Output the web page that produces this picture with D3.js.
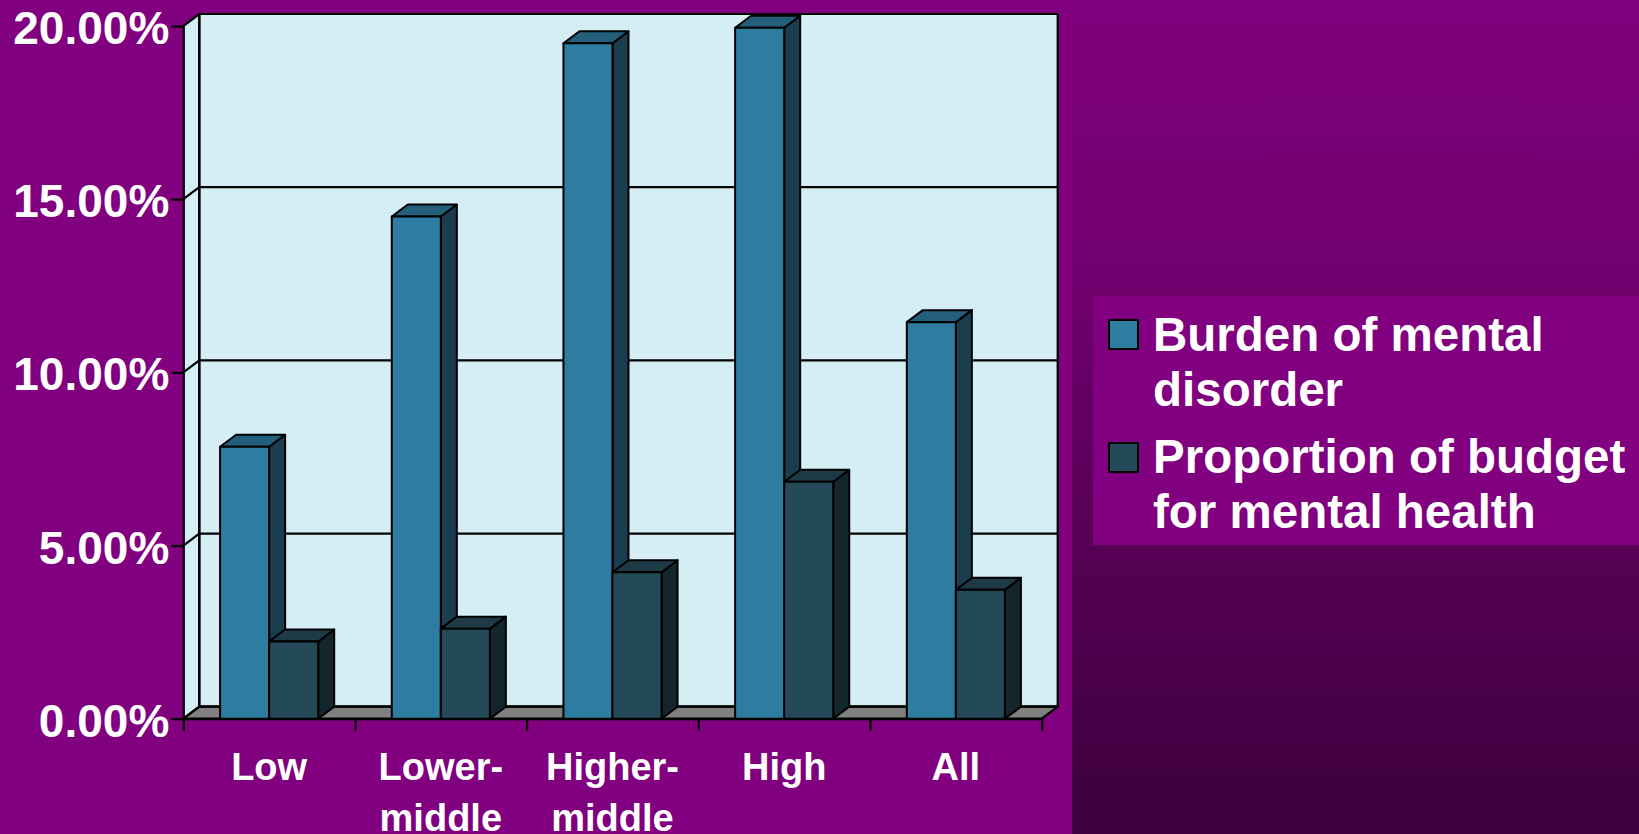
<!DOCTYPE html>
<html>
<head>
<meta charset="utf-8">
<script src="https://cdn.jsdelivr.net/npm/d3@7"></script>
<style>
  html, body { margin: 0; padding: 0; background: #800080; overflow: hidden; }
  svg { display: block; }
  text { font-family: "Liberation Sans", Arial, sans-serif; font-weight: bold; fill: #ffffff; }
</style>
</head>
<body>
<svg id="chart" width="1639" height="834"></svg>
<script>
// Income groups along the x axis, and how their labels wrap
const categories = ["Low", "Lower-middle", "Higher-middle", "High", "All"];
const categoryLines = [["Low"], ["Lower-", "middle"], ["Higher-", "middle"], ["High"], ["All"]];

// Series (percent)
const seriesKeys = ["burden", "budget"];
const legendLines = [["Burden of mental", "disorder"], ["Proportion of budget", "for mental health"]];
const burden = [7.85, 14.5, 19.5, 19.95, 11.45];
const budget = [2.23, 2.6, 4.23, 6.84, 3.72];

// Value axis ticks
const yTicks = [0, 5, 10, 15, 20];

const W = 1639, H = 834;
const svg = d3.select("#chart");

// Face colours for the 3-D columns: front, top, side
const faces = {
  burden: { front: "#2e7da1", top: "#235f7a", side: "#1a3d50" },
  budget: { front: "#244a5a", top: "#1d3a46", side: "#13262c" }
};

// ---- background: solid panel on the left, darkening band on the right
const defs = svg.append("defs");
const grad = defs.append("linearGradient").attr("id", "rightBand")
  .attr("x1", 0).attr("y1", 0).attr("x2", 0).attr("y2", 1);
[[0, "#7f007d"], [0.3, "#730070"], [0.84, "#470047"], [1, "#3c003c"]].forEach(([o, c]) =>
  grad.append("stop").attr("offset", o).attr("stop-color", c));

const splitX = 1072;
svg.append("rect").attr("width", splitX).attr("height", H).attr("fill", "#800080");
svg.append("rect").attr("x", splitX).attr("width", W - splitX).attr("height", H).attr("fill", "url(#rightBand)");

// ---- scales
const plot = { left: 183.3, right: 1041.7, top: 26, bottom: 718.7 };
const dx = 16, dy = -12;   // oblique depth of the 3-D frame

const x = d3.scaleBand().domain(categories).range([plot.left, plot.right]);
const xs = d3.scaleBand().domain(seriesKeys).range([0, x.bandwidth()])
  .paddingInner(0).paddingOuter(0.75);
const y = d3.scaleLinear().domain([0, 20]).range([plot.bottom, plot.top]);

const L = plot.left, R = plot.right, y0 = y(0), yMax = y(20);
const pts = a => a.map(p => p.join(",")).join(" ");

// ---- walls and floor
const frame = svg.append("g").attr("stroke", "#000").attr("stroke-width", 2.2).attr("stroke-linejoin", "round");
frame.append("polygon")
  .attr("points", pts([[L, y0], [L, yMax], [L + dx, yMax + dy], [L + dx, y0 + dy]]))
  .attr("fill", "#d5edf5").attr("stroke", "none");
frame.append("rect")
  .attr("x", L + dx).attr("y", yMax + dy)
  .attr("width", R - L).attr("height", y0 - yMax)
  .attr("fill", "#d5edf5");
frame.append("polygon")
  .attr("points", pts([[L, y0], [R, y0], [R + dx, y0 + dy], [L + dx, y0 + dy]]))
  .attr("fill", "#808080");

// gridlines across the back wall and the side wall
yTicks.forEach(v => {
  frame.append("line")
    .attr("x1", L + dx).attr("x2", R + dx)
    .attr("y1", y(v) + dy).attr("y2", y(v) + dy);
  frame.append("line")
    .attr("x1", L).attr("y1", y(v))
    .attr("x2", L + dx).attr("y2", y(v) + dy);
});
frame.append("line")
  .attr("x1", L + dx).attr("x2", L + dx)
  .attr("y1", yMax + dy).attr("y2", y0 + dy);

// ---- 3-D columns
const rows = categories.map((c, i) => ({ cat: c, burden: burden[i], budget: budget[i] }));
const bars = svg.append("g").attr("stroke", "#000").attr("stroke-width", 2).attr("stroke-linejoin", "round");
rows.forEach(r => {
  seriesKeys.forEach(k => {
    const x0 = x(r.cat) + xs(k), w = xs.bandwidth();
    const yt = y(r[k]);
    const col = faces[k];
    const g = bars.append("g");
    g.append("polygon")
      .attr("points", pts([[x0 + w, yt], [x0 + w + dx, yt + dy], [x0 + w + dx, y0 + dy], [x0 + w, y0]]))
      .attr("fill", col.side);
    g.append("polygon")
      .attr("points", pts([[x0, yt], [x0 + w, yt], [x0 + w + dx, yt + dy], [x0 + dx, yt + dy]]))
      .attr("fill", col.top);
    g.append("rect")
      .attr("x", x0).attr("y", yt).attr("width", w).attr("height", y0 - yt)
      .attr("fill", col.front);
  });
});

// ---- axes
const yAxis = svg.append("g").attr("transform", `translate(${L},0)`)
  .call(d3.axisLeft(y).tickValues(yTicks).tickSize(12).tickSizeOuter(0).tickPadding(2)
    .tickFormat(d => d.toFixed(2) + "%"));
yAxis.selectAll("path, line").attr("stroke", "#000").attr("stroke-width", 2.2);
yAxis.selectAll("text")
  .attr("font-size", 46).attr("dy", "0.38em")
  .style("font-family", '"Liberation Sans", Arial, sans-serif').style("font-weight", "bold").attr("fill", "#fff");

const xEdges = d3.scaleLinear().domain([0, categories.length]).range([L, R]);
const xAxis = svg.append("g").attr("transform", `translate(0,${y0})`)
  .call(d3.axisBottom(xEdges).tickValues(d3.range(categories.length + 1)).tickSize(12)
    .tickSizeOuter(0).tickFormat(""));
xAxis.selectAll("path, line").attr("stroke", "#000").attr("stroke-width", 2.2);

// category labels
const xl = svg.append("g");
categories.forEach((c, i) => {
  const t = xl.append("text")
    .attr("x", x(c) + x.bandwidth() / 2)
    .attr("text-anchor", "middle")
    .attr("font-size", 38);
  categoryLines[i].forEach((line, j) => {
    t.append("tspan").attr("x", x(c) + x.bandwidth() / 2).attr("y", 780 + j * 51).text(line);
  });
});

// ---- legend
const lg = svg.append("g");
lg.append("rect").attr("x", 1093).attr("y", 296).attr("width", W - 1093).attr("height", 249).attr("fill", "#800080");
seriesKeys.forEach((k, i) => {
  const top = 320 + i * 123;
  lg.append("rect").attr("x", 1109).attr("y", top).attr("width", 29).attr("height", 29)
    .attr("fill", faces[k].front).attr("stroke", "#000").attr("stroke-width", 2);
  legendLines[i].forEach((line, j) => {
    lg.append("text").attr("x", 1153).attr("y", 351 + i * 122 + j * 55)
      .attr("font-size", 47.5).text(line);
  });
});
</script>
</body>
</html>
